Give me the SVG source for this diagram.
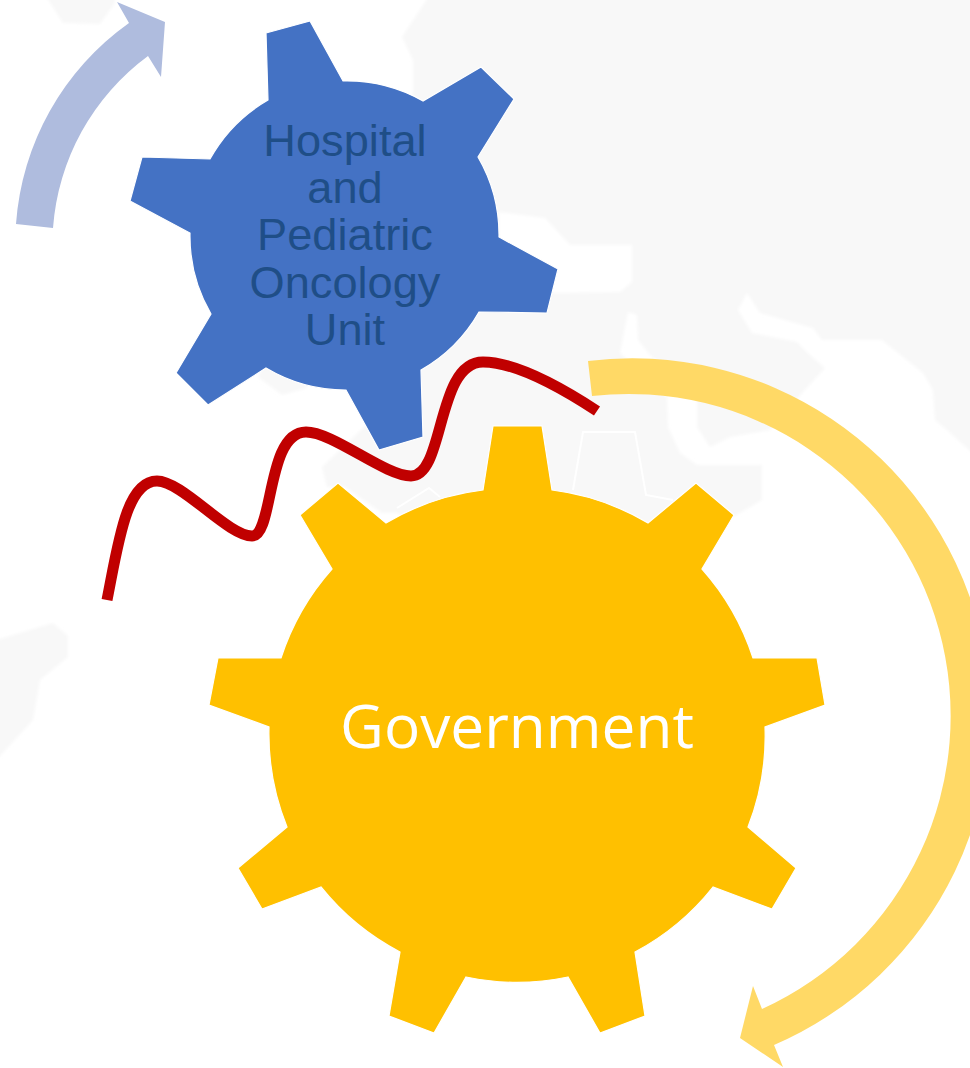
<svg xmlns="http://www.w3.org/2000/svg" width="970" height="1068" viewBox="0 0 970 1068">
<defs><filter id="soft" x="-5%" y="-5%" width="110%" height="110%"><feGaussianBlur stdDeviation="1.6"/></filter></defs>
<style>
.bg{fill:#f8f8f8;stroke:none}
.ghost{fill:none;stroke:#fff;stroke-width:2}
.gear{stroke:#fff;stroke-width:1.2;stroke-linejoin:miter}
.lbl1{font-family:"Liberation Sans",Arial,sans-serif;font-size:45.2px;fill:#1f4e87;text-anchor:middle}
.lbl2{font-family:"Open Sans","Noto Sans",sans-serif;font-size:60.3px;fill:#fff;text-anchor:middle}
</style>
<rect width="970" height="1068" fill="#fff"/>
<g id="background">
<g filter="url(#soft)">
<path class="bg" d="M433 -10L980 -10L980 460L947 430L935 420L933 390L923 373L903 357L882 340L822 340L813 328L760 313L747 293L738 310L752 333L797 342L810 355L825 368L803 392L770 430L730 437L710 447L697 427L697 397L650 355L638 340L637 315L628 312L620 353L667 397L668 427L680 453L697 465L762 465L762 500L733 517L517 600L397 513L382 513L345 487L327 487L322 467L363 428L370 420L345 300L413 93L413 60L402 37Z"/>
<path d="M499 212L545 218L570 245L632 245L632 282L620 292L555 293L500 270Z" fill="#fff"/>
<path class="bg" d="M258 377L282 395L307 388L300 350L270 350Z"/>
<path class="bg" d="M-10 642L53 623L68 636L68 657L40 680L33 720L-10 767Z"/>
<path class="bg" d="M42 -10L115 -10L115 3L100 24L63 23Z"/>
</g>
<path class="ghost" d="M573 490L583 432L635 432L646 495L673 500"/>
<path class="ghost" d="M397 508L429 488L440 497"/>
</g>
<g id="connectors">
<path id="arrow-blue" fill="#afbcde" d="M16 224A270 270 0 0 1 129 23L117 2L165 22L161 77L148 56A235 235 0 0 0 53 228Z"/>
<path id="arrow-gold" fill="#ffd966" d="M588 361A358 358 0 0 1 774 1045L783 1067L740 1038L753 986L762 1009A322 322 0 0 0 592 396Z"/>
<path id="wave" fill="none" stroke="#c00000" stroke-width="11" d="M107 600C118 545 126 481 157 481C182 481 228 536 252 536C274 536 266 432 306 432C333 432 385 476 411 476C445 476 436 362 483 362C517 362 565 390 597 411"/>
</g>
<g id="node-hospital">
<path class="gear" fill="#4472c4" d="M266 33L310 21L343 81A155 155 0 0 1 423 101L481 67L514 99L478 157A155 155 0 0 1 499 237L558 269L547 313L479 312A155 155 0 0 1 421 370L423 437L379 450L346 390A155 155 0 0 1 266 368L208 405L176 373L211 314A155 155 0 0 1 190 233L130 201L142 157L210 159A155 155 0 0 1 268 100Z"/>
<text class="lbl1" x="345" y="156">Hospital</text>
<text class="lbl1" x="345" y="203">and</text>
<text class="lbl1" x="345" y="250">Pediatric</text>
<text class="lbl1" x="345" y="298">Oncology</text>
<text class="lbl1" x="345" y="345">Unit</text>
</g>
<g id="node-government">
<path class="gear" fill="#ffc000" d="M493 426L542 426L552 490A249 249 0 0 1 648 523L696 483L734 515L702 569A249 249 0 0 1 753 658L817 658L825 705L765 727A249 249 0 0 1 748 827L796 868L772 909L713 887A249 249 0 0 1 635 952L645 1016L600 1033L568 977A249 249 0 0 1 466 977L434 1033L389 1016L400 952A249 249 0 0 1 321 887L262 909L238 868L287 827A249 249 0 0 1 269 727L209 705L218 658L281 658A249 249 0 0 1 332 569L300 515L338 483L386 523A249 249 0 0 1 483 490Z"/>
<text class="lbl2" x="517" y="748">Government</text>
</g>
</svg>
